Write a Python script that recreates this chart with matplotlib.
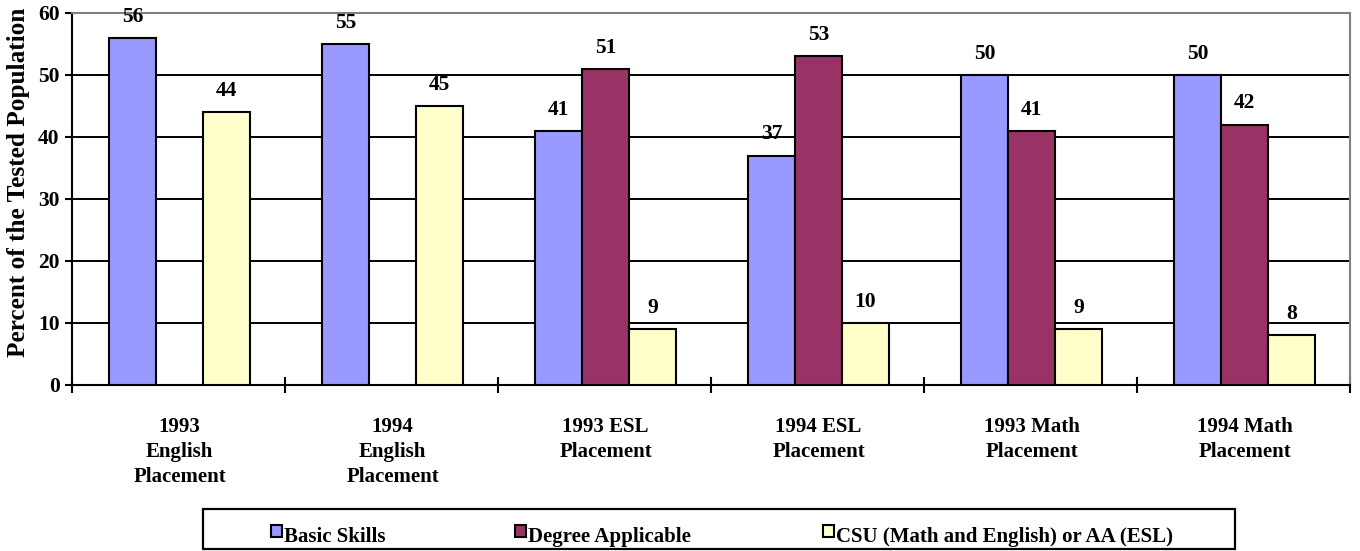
import numpy as np
import matplotlib
matplotlib.use('Agg')
import matplotlib.pyplot as plt
from matplotlib.patches import Rectangle

plt.rcParams['font.family'] = ['Liberation Serif', 'DejaVu Serif']
plt.rcParams['font.weight'] = 'bold'

categories = ['1993\nEnglish\nPlacement', '1994\nEnglish\nPlacement', '1993 ESL\nPlacement',
              '1994 ESL\nPlacement', '1993 Math\nPlacement', '1994 Math\nPlacement']
series_names = ['Basic Skills', 'Degree Applicable', 'CSU (Math and English) or AA (ESL)']
basic_skills = [56, 55, 41, 37, 50, 50]
degree_applicable = [None, None, 51, 53, 41, 42]
csu_aa = [44, 45, 9, 10, 9, 8]
y_ticks = [0, 10, 20, 30, 40, 50, 60]

colors = ['#9999FF', '#993366', '#FFFFCC']
series = [basic_skills, degree_applicable, csu_aa]

W, H = 1360, 551
fig = plt.figure(figsize=(W / 100, H / 100), dpi=100)
ax = fig.add_axes([72 / W, 1 - 385 / H, (1350 - 72) / W, (385 - 13) / H])

bw = 0.22
offsets = [-0.22, 0.0, 0.22]
centers = np.arange(len(categories)) + 0.505
for vals, off, col in zip(series, offsets, colors):
    for c, v in zip(centers, vals):
        if v is None:
            continue
        ax.bar(c + off, v, width=bw, color=col, edgecolor='black', linewidth=1.5, zorder=3)
        ax.annotate(str(v), (c + off, v), xytext=(0, 8), textcoords='offset points',
                    ha='center', va='bottom', fontsize=15.5, fontweight='bold', zorder=4)

ax.set_xlim(0, len(categories))
ax.set_ylim(0, 60)
ax.set_yticks(y_ticks)
ax.set_yticklabels([str(t) for t in y_ticks], fontsize=15.5, fontweight='bold')
for t in y_ticks[1:-1]:
    ax.axhline(t, color='black', linewidth=1.4, zorder=1)

ax.set_xticks(np.arange(len(categories) + 1))
ax.set_xticklabels([])
ax.set_xticks(centers, minor=True)
ax.set_xticklabels(categories, minor=True, fontsize=15, fontweight='bold', linespacing=1.35)
ax.tick_params(axis='x', which='major', direction='inout', length=12, width=1.5)
ax.tick_params(axis='x', which='minor', length=0, pad=23)
ax.tick_params(axis='y', direction='out', length=5, width=1.5, pad=4)

for s in ['left', 'bottom']:
    ax.spines[s].set_linewidth(1.5)
    ax.spines[s].set_color('black')
for s in ['top', 'right']:
    ax.spines[s].set_linewidth(1.5)
    ax.spines[s].set_color('#808080')

fig.text(19 / W, 1 - 357 / H, 'Percent of the Tested Population', rotation=90,
         ha='center', va='bottom', fontsize=18.2, fontweight='bold')

# legend box drawn by hand so the entries sit where the source has them
fig.add_artist(Rectangle((203 / W, 1 - 549 / H), (1235 - 203) / W, 40 / H, transform=fig.transFigure,
                         facecolor='white', edgecolor='black', linewidth=1.6))
legend_x = [271, 515, 823]
for lx, name, col in zip(legend_x, series_names, colors):
    fig.add_artist(Rectangle((lx / W, 1 - 537 / H), 11 / W, 12 / H, transform=fig.transFigure,
                             facecolor=col, edgecolor='black', linewidth=1.5))
    fig.text((lx + 13) / W, 1 - 542 / H, name, ha='left', va='baseline',
             fontsize=15, fontweight='bold')

fig.savefig('out.png', dpi=100)
